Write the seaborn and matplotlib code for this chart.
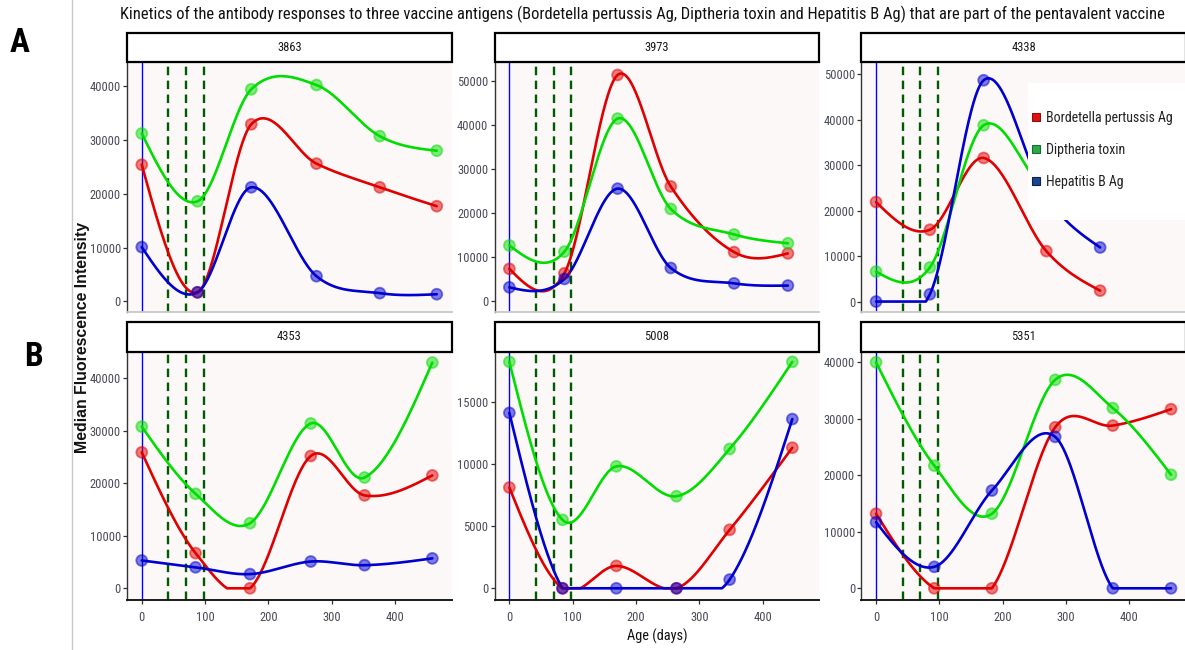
import numpy as np
import pandas as pd
import matplotlib
matplotlib.use("Agg")
import matplotlib.pyplot as plt
import seaborn as sns
from matplotlib import font_manager as fm
from matplotlib.patches import Rectangle
from matplotlib.lines import Line2D

# ---------------- data ----------------
antigens = ["Bordetella pertussis Ag", "Diptheria toxin", "Hepatitis B Ag"]
subjects = ["3863", "3973", "4338", "4353", "5008", "5351"]

days_3863 = [0, 88, 173, 276, 376, 466]
bp_3863 = [25400, 1700, 32900, 25600, 21200, 17700]
dt_3863 = [31200, 18600, 39400, 40200, 30700, 28000]
hb_3863 = [10100, 1700, 21200, 4700, 1550, 1350]

days_3973 = [0, 87, 171, 255, 355, 440]
bp_3973 = [7400, 6400, 51400, 26100, 11200, 10900]
dt_3973 = [12700, 11300, 41500, 21000, 15200, 13200]
hb_3973 = [3200, 5100, 25600, 7600, 4100, 3600]

days_4338 = [0, 85, 170, 269, 354]
bp_4338 = [21900, 15800, 31600, 11100, 2400]
dt_4338 = [6600, 7500, 38800, 24000, 19500]
hb_4338 = [0, 1600, 48700, 23000, 11900]

days_4353 = [0, 85, 171, 267, 352, 459]
bp_4353 = [25900, 6700, 0, 25200, 17700, 21500]
dt_4353 = [30800, 18000, 12400, 31400, 21100, 43000]
hb_4353 = [5300, 4000, 2700, 5100, 4400, 5700]

days_5008 = [0, 84, 169, 264, 348, 447]
bp_5008 = [8100, 0, 1800, 0, 4700, 11300]
dt_5008 = [18200, 5500, 9800, 7400, 11200, 18200]
hb_5008 = [14100, 0, 0, 0, 700, 13600]

days_5351 = [0, 92, 183, 283, 374, 466]
bp_5351 = [13200, 0, 0, 28500, 28800, 31700]
dt_5351 = [40000, 21700, 13200, 36900, 31900, 20100]
hb_5351 = [11700, 3800, 17300, 26800, 0, 0]

days = {"3863": days_3863, "3973": days_3973, "4338": days_4338,
        "4353": days_4353, "5008": days_5008, "5351": days_5351}
values = {"3863": (bp_3863, dt_3863, hb_3863), "3973": (bp_3973, dt_3973, hb_3973),
          "4338": (bp_4338, dt_4338, hb_4338), "4353": (bp_4353, dt_4353, hb_4353),
          "5008": (bp_5008, dt_5008, hb_5008), "5351": (bp_5351, dt_5351, hb_5351)}

y_ticks = {"3863": [0, 10000, 20000, 30000, 40000],
           "3973": [0, 10000, 20000, 30000, 40000, 50000],
           "4338": [0, 10000, 20000, 30000, 40000, 50000],
           "4353": [0, 10000, 20000, 30000, 40000],
           "5008": [0, 5000, 10000, 15000],
           "5351": [0, 10000, 20000, 30000, 40000]}
x_ticks = [0, 100, 200, 300, 400]
birth_day = 0
dose_days = [42, 70, 98]

title = ("Kinetics of the antibody responses to three vaccine antigens (Bordetella pertussis Ag, "
         "Diptheria toxin and Hepatitis B Ag) that are part of the pentavalent vaccine")

# ---------------- styling / layout ----------------
W, H = 1185, 650
y_limits = {"3863": (-1950, 44470), "3973": (-2400, 54340), "4338": (-2300, 52720),
            "4353": (-2230, 45010), "5008": (-940, 18990), "5351": (-2070, 41820)}
x_limits = (-23.3, 489.3)
col_left = [127.0, 494.6, 861.3]
ax_w = 324.5
row_top = [62.0, 352.0]
row_bot = [312.0, 600.0]
strip_px = [29.0, 30.0]

line_pal = dict(zip(antigens, ["#e00000", "#00dd00", "#0000d0"]))
leg_pal = dict(zip(antigens, ["#dd1111", "#2aaa4a", "#1c4590"]))
leg_edge = dict(zip(antigens, ["#881010", "#1a6a30", "#0c2050"]))
panel_bg = "#fdf8f8"
tick_col = "#4a4a58"

sns.set_theme(style="white")
avail = {f.name for f in fm.fontManager.ttflist}
def pick(*names):
    for n in names:
        if n in avail:
            return n
    return "DejaVu Sans"
NARROW = pick("Liberation Sans Narrow", "Arial Narrow", "DejaVu Sans Condensed", "Roboto Condensed", "Liberation Sans")
SANS = pick("Liberation Sans", "Arial", "DejaVu Sans")
plt.rcParams["font.family"] = [NARROW, "DejaVu Sans"]

# ---------------- smooth interpolating curve ----------------
def smooth_curve(x, y, num=600):
    """Cubic Hermite through the points: central-difference tangents inside,
    natural (zero curvature) tangents at both ends; floored at zero."""
    x = np.asarray(x, float); y = np.asarray(y, float)
    n = len(x)
    sec = np.diff(y) / np.diff(x)
    m = np.empty(n)
    m[1:-1] = (y[2:] - y[:-2]) / (x[2:] - x[:-2])
    m[0] = (3 * sec[0] - m[1]) / 2
    m[-1] = (3 * sec[-1] - m[-2]) / 2
    xs = np.linspace(x[0], x[-1], num)
    k = np.clip(np.searchsorted(x, xs, side="right") - 1, 0, n - 2)
    h = x[k + 1] - x[k]
    t = (xs - x[k]) / h
    h00 = 2 * t**3 - 3 * t**2 + 1
    h10 = t**3 - 2 * t**2 + t
    h01 = -2 * t**3 + 3 * t**2
    h11 = t**3 - t**2
    ys = h00 * y[k] + h10 * h * m[k] + h01 * y[k + 1] + h11 * h * m[k + 1]
    return xs, np.maximum(ys, 0.0)

# ---------------- tidy tables ----------------
prow, crow = [], []
for s in subjects:
    for a, v in zip(antigens, values[s]):
        for dd, vv in zip(days[s], v):
            prow.append((s, a, dd, vv))
        xs, ys = smooth_curve(days[s], v)
        for xx, yy in zip(xs, ys):
            crow.append((s, a, xx, yy))
points = pd.DataFrame(prow, columns=["subject", "antigen", "day", "mfi"])
curves = pd.DataFrame(crow, columns=["subject", "antigen", "day", "mfi"])

# ---------------- figure ----------------
fig = plt.figure(figsize=(W / 100, H / 100), dpi=100)
fig.patch.set_facecolor("white")
fig.canvas.draw()
renderer = fig.canvas.get_renderer()

def fitted_size(s, target, family, weight="normal", base=10.0):
    t = fig.text(0, 0, s, fontsize=base, family=family, weight=weight)
    bb = t.get_window_extent(renderer=renderer)
    t.remove()
    return base * target / bb.width

for i, s in enumerate(subjects):
    r, c = divmod(i, 3)
    top, bot = row_top[r], row_bot[r]
    ax = fig.add_axes([col_left[c] / W, 1 - bot / H, ax_w / W, (bot - top) / H])
    ax.set_facecolor(panel_bg)
    ax.axvline(birth_day, color="#0000ff", lw=1.0, zorder=1)
    for dd in dose_days:
        ax.axvline(dd, color="#005a00", lw=1.7, ls=(0, (3.6, 2.3)), zorder=1)
    sns.lineplot(data=curves[curves.subject == s], x="day", y="mfi", hue="antigen",
                 hue_order=antigens, palette=line_pal, sort=False, estimator=None,
                 linewidth=1.9, legend=False, ax=ax, zorder=2)
    sns.scatterplot(data=points[points.subject == s], x="day", y="mfi", hue="antigen",
                    hue_order=antigens, palette=line_pal, s=62, alpha=0.5,
                    edgecolor="face", linewidth=1.3, legend=False, ax=ax, zorder=3)
    ax.set_xlim(*x_limits)
    ax.set_ylim(*y_limits[s])
    ax.set_yticks(y_ticks[s])
    ax.set_yticklabels([str(v) for v in y_ticks[s]])
    ax.set_xticks(x_ticks)
    ax.set_xticklabels([str(v) for v in x_ticks])
    ax.set_xlabel(""); ax.set_ylabel("")
    ax.tick_params(axis="y", left=True, direction="out", length=3, width=0.9,
                   color="#333333", labelcolor=tick_col, labelsize=9, pad=1.5)
    if r == 0:
        ax.tick_params(axis="x", bottom=False, labelbottom=False)
        ax.spines["bottom"].set_color("#c8c8c8"); ax.spines["bottom"].set_linewidth(1.3)
    else:
        ax.tick_params(axis="x", bottom=True, direction="out", length=3, width=0.9,
                       color="#333333", labelcolor=tick_col, labelsize=9, pad=5)
        ax.spines["bottom"].set_color("#1a1a1a"); ax.spines["bottom"].set_linewidth(1.4)
    ax.spines["left"].set_color("#333333"); ax.spines["left"].set_linewidth(1.0)
    ax.spines["top"].set_color("#c07070"); ax.spines["top"].set_linewidth(0.8)
    ax.spines["right"].set_visible(False)
    h = strip_px[r] / (bot - top)
    ax.add_patch(Rectangle((0, 1.0), 1, h, transform=ax.transAxes, facecolor="white",
                           edgecolor="black", lw=1.6, clip_on=False, zorder=5))
    ax.text(0.5, 1 + h / 2, s, transform=ax.transAxes, ha="center", va="center",
            fontsize=9, color="#1a1a1a", zorder=6)

# separator line
fig.add_artist(Line2D([72 / W, 72 / W], [0, 1], transform=fig.transFigure,
                      color="#c8c8c8", lw=1.0))

# title
ts = fitted_size(title, 1035, NARROW)
fig.text(642.5 / W, 1 - 14 / H, title, ha="center", va="center", fontsize=ts,
         family=NARROW, color="#111111")

# panel letters
fig.text(20 / W, 1 - 43 / H, "A", ha="center", va="center", fontsize=24,
         weight="bold", family=NARROW, color="black")
fig.text(34 / W, 1 - 357 / H, "B", ha="center", va="center", fontsize=24,
         weight="bold", family=NARROW, color="black")

# axis titles
yl = "Median Fluorescence Intensity"
ys_ = fitted_size(yl, 232, SANS, weight="bold")
fig.text(83 / W, 1 - 337 / H, yl, rotation=90, ha="center", va="center",
         fontsize=ys_, weight="bold", family=SANS, color="#111111")
xl = "Age (days)"
xs_ = fitted_size(xl, 60, NARROW)
fig.text(657 / W, 1 - 636 / H, xl, ha="center", va="center", fontsize=xs_,
         family=NARROW, color="#111111")

# legend (white box over panel 4338)
fig.add_artist(Rectangle((1028 / W, 1 - 220 / H), (1186 - 1028) / W, (220 - 83) / H,
                         transform=fig.transFigure, facecolor="white", edgecolor="none",
                         zorder=3))
ls_ = fitted_size(antigens[0], 127, NARROW)
handles = [Line2D([], [], ls="none", marker="s", markersize=6.2,
                  markerfacecolor=leg_pal[a], markeredgecolor=leg_edge[a],
                  markeredgewidth=0.8) for a in antigens]
leg = fig.legend(handles, antigens, loc="center left",
                 bbox_to_anchor=(1031 / W, 1 - 150 / H), frameon=False,
                 prop=fm.FontProperties(family=NARROW, size=ls_),
                 handlelength=0.7, handletextpad=0.35, labelspacing=1.3,
                 borderpad=0, borderaxespad=0)
for t in leg.get_texts():
    t.set_color("#222222")
leg.set_zorder(6)

fig.savefig("out.png", dpi=100, facecolor="white")
